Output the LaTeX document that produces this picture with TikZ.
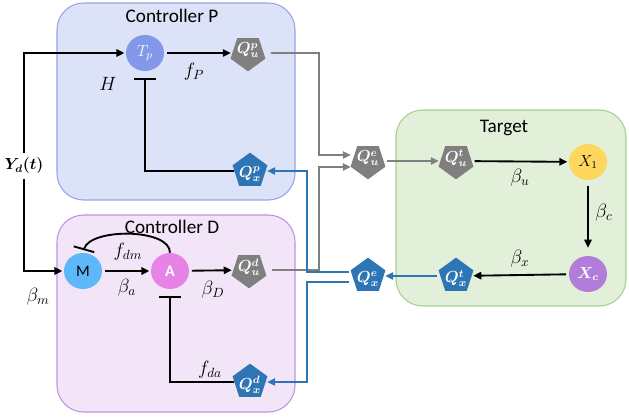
\documentclass[tikz,border=0pt]{standalone}
\usepackage{fontspec}
\setsansfont{Carlito}
\usepackage{bm}
\usetikzlibrary{arrows.meta,positioning,shapes.geometric,calc}
\definecolor{pfill}{HTML}{DCE2F7}
\definecolor{pline}{HTML}{94A6E6}
\definecolor{dfill}{HTML}{F2E5F8}
\definecolor{dline}{HTML}{C28FE3}
\definecolor{tfill}{HTML}{E2EFD9}
\definecolor{tline}{HTML}{A9CF8E}
\definecolor{qgrey}{HTML}{7F7F7F}
\definecolor{qblue}{HTML}{2E75B6}
\definecolor{tpcol}{HTML}{8398E8}
\definecolor{mcol}{HTML}{5DB7F8}
\definecolor{acol}{HTML}{E683E6}
\definecolor{xonecol}{HTML}{FFD75F}
\definecolor{xccol}{HTML}{B07ED8}

\begin{document}
\begin{tikzpicture}[x=0.75pt,y=-0.75pt,
  font=\large,
  panel/.style={line width=0.8pt,rounded corners=20pt},
  title/.style={font=\sffamily\Large},
  lbl/.style={font=\Large},
  cell/.style={ellipse,minimum width=28.5pt,minimum height=27pt,inner sep=0pt},
  qu/.style={regular polygon,regular polygon sides=5,shape border rotate=180,
             fill=qgrey,minimum size=27.5pt,inner sep=0pt,
             label={[text=white,yshift=2pt]center:#1}},
  qx/.style={regular polygon,regular polygon sides=5,
             fill=qblue,minimum size=27.5pt,inner sep=0pt,
             label={[text=white,yshift=-2pt]center:#1}},
  arr/.style={-{Triangle[length=6pt,width=5.5pt]},line width=1.4pt,
              shorten <=2pt,shorten >=1pt},
  garr/.style={arr,draw=qgrey},
  barr/.style={arr,draw=qblue},
  inh/.style={-{Bar[width=16pt,line width=1.4pt]},line width=1.4pt,
              shorten >=5pt},
]
\useasboundingbox (0,0) rectangle (629,420);

% Panels
\draw[panel,fill=pfill,draw=pline] (57,3) rectangle (295,200);
\draw[panel,fill=dfill,draw=dline] (57,215) rectangle (295,412);
\draw[panel,fill=tfill,draw=tline] (396,110) rectangle (626,306);
\node[title] (ptitle) at (172,16) {Controller P};
\node[title] (dtitle) at (172,227) {Controller D};
\node[title] (ttitle) at (504,128) {Target};

% Controller P
\node[cell,fill=tpcol,text=white] (Tp) at (145,53) {$T_p$};
\node[qu={$\bm{Q^p_u}$}] (Qup) at (248,53) {};
\node[qx={$\bm{Q^p_x}$}] (Qxp) at (250,171) {};
\node[lbl] (lblH) at (108,84) {$H$};
\node[lbl] (lblfP) at (194,72) {$f_P$};

% Controller D
\node[cell,fill=mcol,font=\sffamily\large] (M) at (83,271) {M};
\node[cell,fill=acol,text=white,font=\sffamily\large\bfseries] (A) at (170,271) {A};
\node[qu={$\bm{Q^d_u}$}] (Qud) at (249,270) {};
\node[qx={$\bm{Q^d_x}$}] (Qxd) at (250,382) {};
\node[lbl] (lblfdm) at (128,252) {$f_{dm}$};
\node[lbl] (lblba) at (127,288) {$\beta_a$};
\node[lbl] (lblbD) at (213,290) {$\beta_D$};
\node[lbl] (lblbm) at (38,297) {$\beta_m$};
\node[lbl] (lblfda) at (210,370) {$f_{da}$};

% Target
\node[qu={$\bm{Q^e_u}$}] (Que) at (368,161) {};
\node[qu={$\bm{Q^t_u}$}] (Qut) at (456,161) {};
\node[cell,fill=xonecol] (X1) at (588,162) {$X_1$};
\node[cell,fill=xccol,text=white] (Xc) at (588,274) {$\bm{X_c}$};
\node[qx={$\bm{Q^t_x}$}] (Qxt) at (456,276) {};
\node[qx={$\bm{Q^e_x}$}] (Qxe) at (368,276) {};
\node[lbl] (lblbu) at (520,178) {$\beta_u$};
\node[lbl] (lblbc) at (604,213) {$\beta_c$};
\node[lbl] (lblbx) at (520,259) {$\beta_x$};

% Reference input
\node (yd) at (24,166) {$\bm{Y_d(t)}$};
\draw[arr,shorten <=0pt] (yd.north) |- (Tp.west);
\draw[arr,shorten <=0pt] (yd.south) |- (M.west);

% Controller paths
\draw[arr] (Tp) -- (Qup);
\draw[inh] (Qxp.west) -| (Tp.south);
\draw[arr] (M) -- (A);
\draw[arr] (A) -- (Qud);
\draw[inh] (Qxd.west) -| (A.south);
\draw[inh,shorten >=2pt] (A.north) .. controls (170,228) and (90,228) .. (M.north);

% Target paths
\draw[arr] (Qut) -- (X1);
\draw[arr,shorten <=4pt,shorten >=6pt] (X1) -- (Xc);
\draw[arr] (Xc) -- (Qxt);
\draw[barr] (Qxt) -- (Qxe);
\draw[garr] (Que) -- (Qut);

% Exchange lines
\coordinate (uein1) at ([yshift=4.5pt]Que.west);
\coordinate (uein2) at ([yshift=-4.5pt]Que.west);
\draw[garr,shorten <=5pt] (Qup.east) -| ([xshift=-25pt]uein1) -- (uein1);
\draw[garr,shorten <=5pt] (Qud.east) -| ([xshift=-25pt]uein2) -- (uein2);
\coordinate (xeout1) at ([yshift=3pt]Qxe.west);
\coordinate (xeout2) at ([yshift=-4.5pt]Qxe.west);
\draw[barr] (xeout1) -- ([xshift=-34pt]xeout1) |- (Qxp.east);
\draw[barr] (xeout2) -- ([xshift=-34pt]xeout2) |- (Qxd.east);

\end{tikzpicture}
\end{document}
